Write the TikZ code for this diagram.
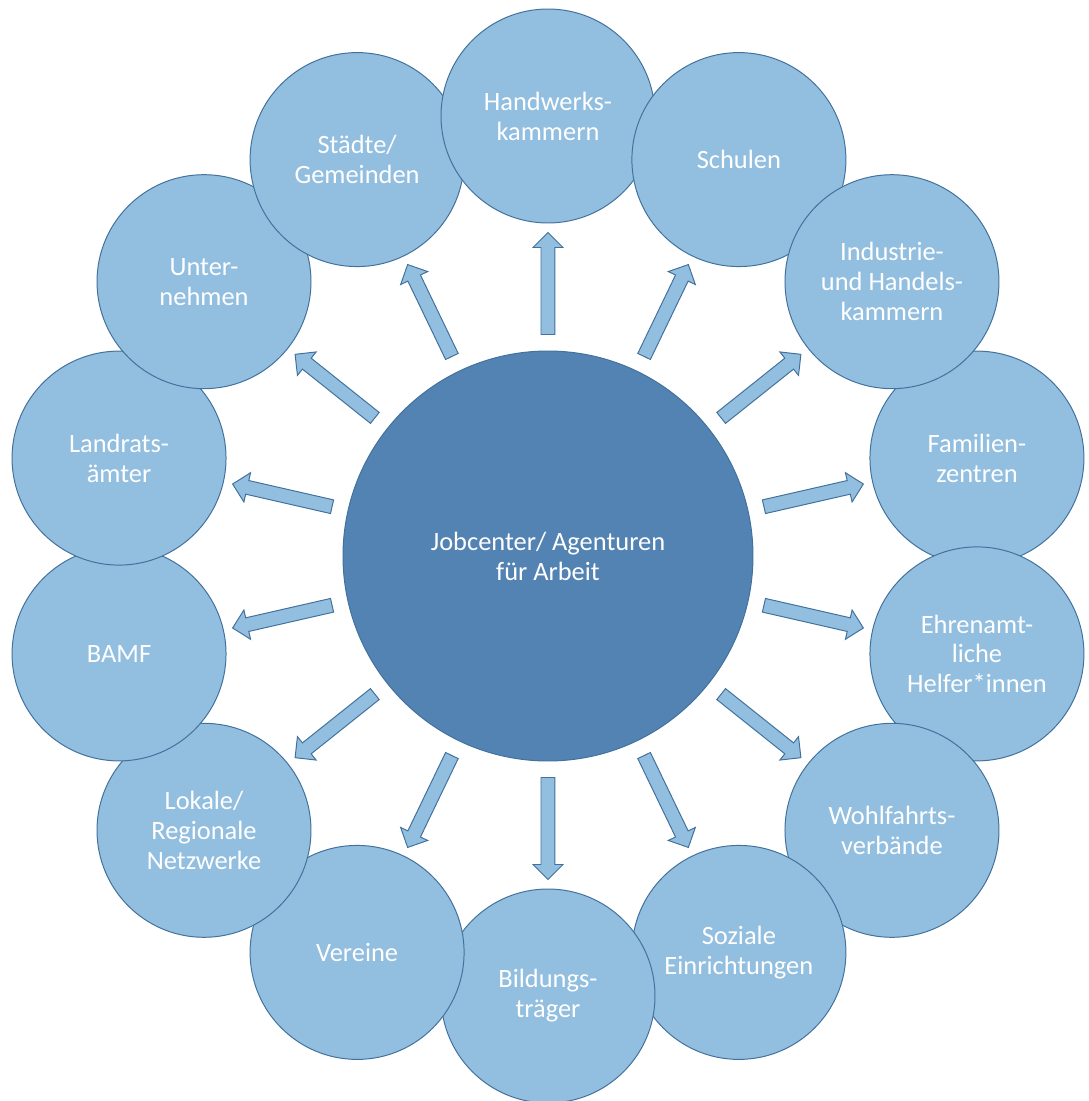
\documentclass[tikz,border=0pt]{standalone}
\usepackage{fontspec}
\setmainfont{Carlito}
\usepackage{tikz}
\usetikzlibrary{shapes.arrows}

\definecolor{ringblue}{HTML}{92BEDF}
\definecolor{coreblue}{HTML}{5383B3}
\definecolor{edgeblue}{HTML}{41719C}

\begin{document}
\begin{tikzpicture}[
  ring/.style={circle, fill=ringblue, draw=edgeblue, line width=0.7pt,
    minimum size=5.35cm, inner sep=0pt, text=white, align=center,
    font=\fontsize{18.8}{21.3}\selectfont},
  core/.style={circle, fill=coreblue, draw=edgeblue, line width=0.7pt,
    minimum size=10.25cm, text=white, align=center,
    font=\fontsize{18.8}{21.3}\selectfont},
  link/.style={single arrow, draw=edgeblue, fill=ringblue, line width=0.7pt,
    inner xsep=0pt, inner ysep=0.1625cm, single arrow head extend=0.2cm,
    minimum height=2.55cm, sloped, allow upside down}
]

\useasboundingbox (-13.7,-13.625) rectangle (13.525,13.9);

\node[core] (jc) at (0,0) {Jobcenter/ Agenturen\\für Arbeit};

% outer ring, index 0 at the top, counted clockwise
\foreach \i/\lbl in {
  3/{Familien-\\zentren}, 4/{Ehrenamt-\\liche\\Helfer*innen},
  5/{Wohlfahrts-\\verbände}, 6/{Soziale\\Einrichtungen},
  7/{Bildungs-\\träger}, 8/{Vereine}, 9/{Lokale/\\Regionale\\Netzwerke},
  10/{BAMF}, 11/{Landrats-\\ämter}, 12/{Unter-\\nehmen},
  13/{Städte/\\Gemeinden}, 0/{Handwerks-\\kammern}, 1/{Schulen},
  2/{Industrie-\\und Handels-\\kammern}}{
  \pgfmathsetmacro{\ang}{90-\i*360/14}
  \node[ring] (o\i) at (\ang:11cm) {\lbl};
}

\foreach \i in {0,...,13}
  \path (jc) -- (o\i) node[link, midway] {};

\end{tikzpicture}
\end{document}
